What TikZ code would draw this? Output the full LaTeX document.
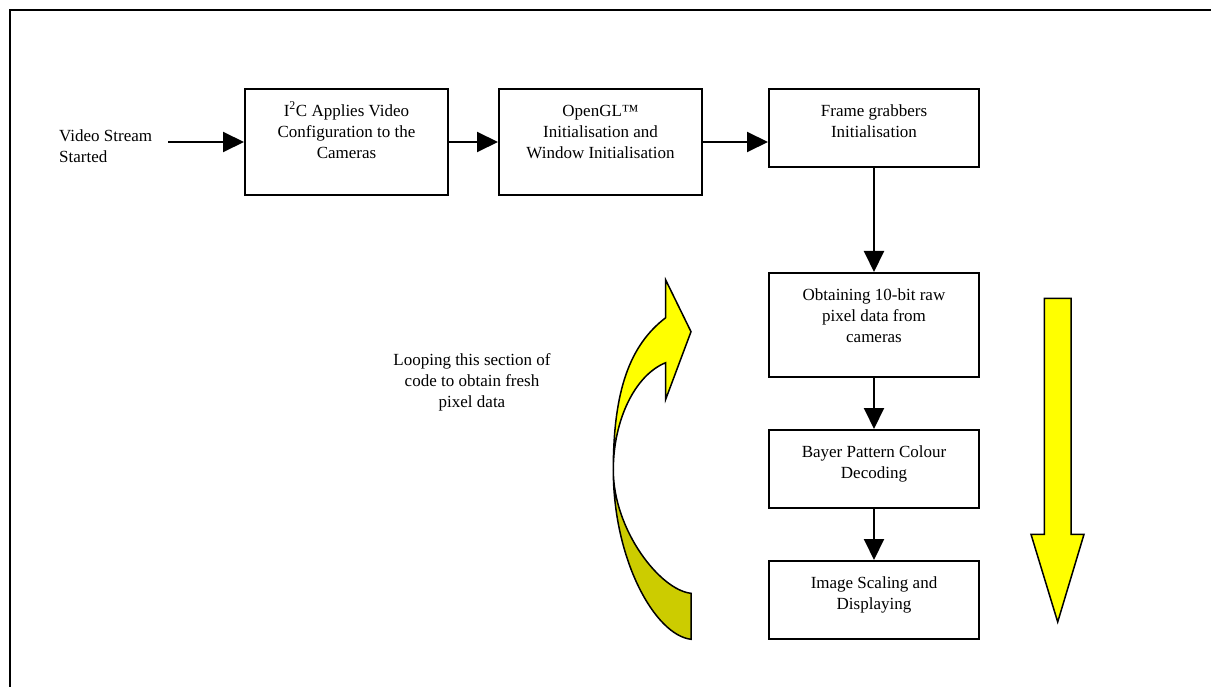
\documentclass[tikz,border=0pt]{standalone}
\usepackage{fontspec}
\setmainfont{Liberation Serif}
\usetikzlibrary{arrows.meta}
\definecolor{arrowyellow}{RGB}{255,255,0}
\definecolor{arrowshade}{RGB}{204,204,0}
\begin{document}
\begin{tikzpicture}[x=1pt,y=-1pt,
  blk/.style={draw, line width=2pt, inner sep=0pt},
  txt/.style={anchor=north, align=center, inner sep=0pt, font=\fontsize{17}{21}\selectfont},
  flow/.style={line width=2pt, -{Triangle[length=21pt,width=20pt]}},
  bigarrow/.style={line width=1.5pt, line join=miter}]
\useasboundingbox (0,0) rectangle (1211,687);

% page frame (top and left edges)
\draw[line width=2pt] (10,687) -- (10,10) -- (1211,10);

% process blocks
\node[blk, minimum width=203pt, minimum height=106pt] (b1) at (346.5,142) {};
\node[blk, minimum width=203pt, minimum height=106pt] (b2) at (600.5,142) {};
\node[blk, minimum width=210pt, minimum height=78pt]  (b3) at (874,128) {};
\node[blk, minimum width=210pt, minimum height=104pt] (b4) at (874,325) {};
\node[blk, minimum width=210pt, minimum height=78pt]  (b5) at (874,469) {};
\node[blk, minimum width=210pt, minimum height=78pt]  (b6) at (874,600) {};

% block captions, set from the top of each block
\node[txt] (t1) at ([yshift=-13.3pt]b1.north) {\strut I\textsuperscript{2}C Applies Video\\Configuration to the\\Cameras};
\node[txt] (t2) at ([yshift=-13.3pt]b2.north) {\strut OpenGL\texttrademark\\Initialisation and\\Window Initialisation};
\node[txt] (t3) at ([yshift=-13.3pt]b3.north) {\strut Frame grabbers\\Initialisation};
\node[txt] (t4) at ([yshift=-13.3pt]b4.north) {\strut Obtaining 10-bit raw\\pixel data from\\cameras};
\node[txt] (t5) at ([yshift=-13.3pt]b5.north) {\strut Bayer Pattern Colour\\Decoding};
\node[txt] (t6) at ([yshift=-13.3pt]b6.north) {\strut Image Scaling and\\Displaying};

% start label and its arrow
\node[txt, anchor=north west, align=left] (start) at (59,127) {\strut Video Stream\\Started};
\coordinate (vs) at (168,142);
\draw[flow] (vs) -- (b1.west);

% flow between blocks
\draw[flow] (b1.east) -- (b2.west);
\draw[flow] (b2.east) -- (b2.east -| b3.west);
\draw[flow] (b3.south) -- (b4.north);
\draw[flow] (b4.south) -- (b5.north);
\draw[flow] (b5.south) -- (b6.north);

% loop note
\node[txt] (loop) at (472,351) {\strut Looping this section of\\code to obtain fresh\\pixel data};

% curved loop arrow: shaded back face, then the front face with its head
\filldraw[bigarrow, fill=arrowshade]
  (613.3,470) .. controls (613.3,560) and (655,635) .. (691,639.3)
  -- (691,593.3)
  .. controls (660,590) and (613.3,530) .. (613.3,470) -- cycle;
\filldraw[bigarrow, fill=arrowyellow]
  (613.3,470) .. controls (613.3,390) and (630,345) .. (665.7,317.7)
  -- (665.7,280) -- (691,331.7) -- (665.7,399.3) -- (665.7,362.7)
  .. controls (635,375) and (613.3,420) .. (613.3,470) -- cycle;

% straight downward arrow
\filldraw[bigarrow, fill=arrowyellow]
  (1044.3,298.3) -- (1071,298.3) -- (1071,534.3) -- (1084,534.3)
  -- (1057.7,622) -- (1031,534.3) -- (1044.3,534.3) -- cycle;
\end{tikzpicture}
\end{document}
